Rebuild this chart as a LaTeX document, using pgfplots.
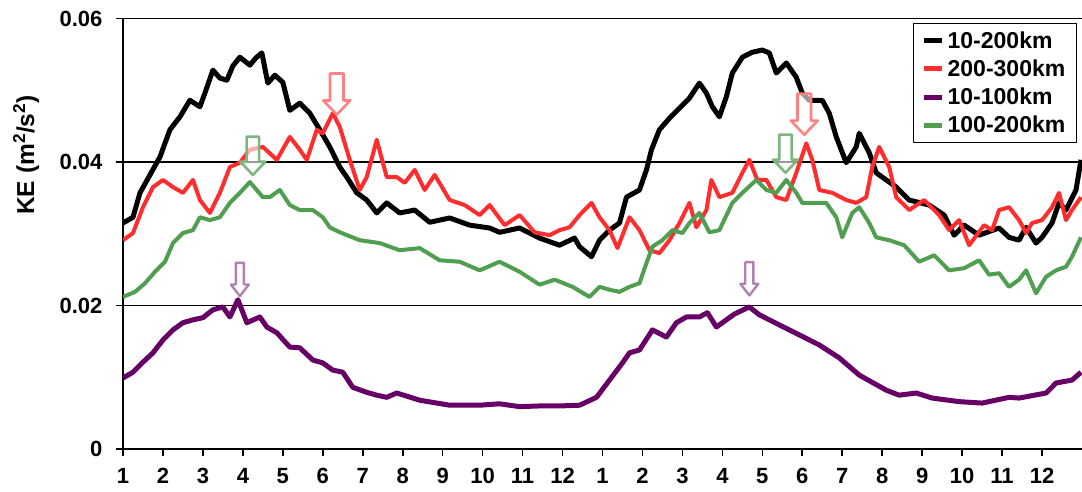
\documentclass[border=0pt]{standalone}
\usepackage{fontspec}
\setmainfont{Liberation Sans}
\usepackage{pgfplots}
\usepackage{pgfplotstable}
\pgfplotsset{compat=1.18}

\definecolor{keblack}{RGB}{0,0,0}
\definecolor{kered}{RGB}{255,45,45}
\definecolor{kepurple}{RGB}{102,0,102}
\definecolor{kegreen}{RGB}{80,158,80}

% hollow block arrows pointing down; the tip sits on the data point
\pgfdeclareplotmark{blockdown}{%
  \pgfpathmoveto{\pgfpoint{0pt}{0pt}}%
  \pgfpathlineto{\pgfpoint{\pgfplotmarksize}{1.05\pgfplotmarksize}}%
  \pgfpathlineto{\pgfpoint{0.5\pgfplotmarksize}{1.05\pgfplotmarksize}}%
  \pgfpathlineto{\pgfpoint{0.5\pgfplotmarksize}{3.05\pgfplotmarksize}}%
  \pgfpathlineto{\pgfpoint{-0.5\pgfplotmarksize}{3.05\pgfplotmarksize}}%
  \pgfpathlineto{\pgfpoint{-0.5\pgfplotmarksize}{1.05\pgfplotmarksize}}%
  \pgfpathlineto{\pgfpoint{-\pgfplotmarksize}{1.05\pgfplotmarksize}}%
  \pgfpathclose
  \pgfusepathqfillstroke}
\pgfdeclareplotmark{blockdownlong}{%
  \pgfpathmoveto{\pgfpoint{0pt}{0pt}}%
  \pgfpathlineto{\pgfpoint{\pgfplotmarksize}{1.3\pgfplotmarksize}}%
  \pgfpathlineto{\pgfpoint{0.45\pgfplotmarksize}{1.3\pgfplotmarksize}}%
  \pgfpathlineto{\pgfpoint{0.45\pgfplotmarksize}{3.7\pgfplotmarksize}}%
  \pgfpathlineto{\pgfpoint{-0.45\pgfplotmarksize}{3.7\pgfplotmarksize}}%
  \pgfpathlineto{\pgfpoint{-0.45\pgfplotmarksize}{1.3\pgfplotmarksize}}%
  \pgfpathlineto{\pgfpoint{-\pgfplotmarksize}{1.3\pgfplotmarksize}}%
  \pgfpathclose
  \pgfusepathqfillstroke}

% month index (0 = first January) and kinetic energy
\pgfplotstableread{
m      ke
0.000  0.0315
0.250  0.0323
0.425  0.0357
0.675  0.0382
0.925  0.0407
1.175  0.0445
1.425  0.0463
1.675  0.0486
1.925  0.0477
2.075  0.0500
2.250  0.0528
2.425  0.0517
2.600  0.0514
2.750  0.0534
2.925  0.0546
3.175  0.0535
3.325  0.0545
3.475  0.0552
3.625  0.0510
3.800  0.0521
4.000  0.0511
4.175  0.0472
4.425  0.0482
4.675  0.0468
4.925  0.0445
5.175  0.0421
5.425  0.0393
5.600  0.0379
5.850  0.0357
6.100  0.0347
6.350  0.0329
6.600  0.0343
6.925  0.0329
7.300  0.0333
7.675  0.0316
8.175  0.0322
8.675  0.0312
9.175  0.0308
9.425  0.0302
9.925  0.0308
10.425 0.0294
10.925 0.0284
11.300 0.0294
11.425 0.0282
11.725 0.0268
11.925 0.0291
12.175 0.0305
12.425 0.0315
12.600 0.0351
12.925 0.0361
13.100 0.0389
13.225 0.0417
13.425 0.0445
13.675 0.0461
13.925 0.0475
14.175 0.0489
14.425 0.0510
14.600 0.0496
14.750 0.0477
14.925 0.0463
15.100 0.0491
15.250 0.0524
15.500 0.0546
15.750 0.0553
16.000 0.0556
16.175 0.0552
16.350 0.0524
16.600 0.0538
16.850 0.0518
17.000 0.0496
17.175 0.0486
17.500 0.0486
17.675 0.0468
17.850 0.0435
18.100 0.0399
18.350 0.0421
18.425 0.0440
18.675 0.0413
18.850 0.0385
19.100 0.0375
19.350 0.0365
19.675 0.0347
20.175 0.0340
20.550 0.0326
20.800 0.0298
21.050 0.0312
21.425 0.0298
21.925 0.0308
22.175 0.0295
22.425 0.0291
22.600 0.0309
22.850 0.0287
23.000 0.0295
23.250 0.0315
23.425 0.0343
23.600 0.0333
23.850 0.0361
23.975 0.0403
}\kebandA

\pgfplotstableread{
m      ke
0.000  0.0291
0.250  0.0301
0.500  0.0337
0.750  0.0365
1.000  0.0375
1.250  0.0365
1.500  0.0357
1.750  0.0375
1.925  0.0347
2.175  0.0329
2.425  0.0357
2.675  0.0393
2.925  0.0399
3.175  0.0417
3.500  0.0421
3.850  0.0403
4.175  0.0435
4.425  0.0417
4.600  0.0403
4.850  0.0445
5.000  0.0440
5.250  0.0468
5.425  0.0449
5.675  0.0403
5.925  0.0361
6.100  0.0379
6.350  0.0431
6.600  0.0379
6.850  0.0379
7.050  0.0371
7.300  0.0389
7.550  0.0361
7.800  0.0382
8.175  0.0347
8.550  0.0340
8.925  0.0326
9.175  0.0340
9.550  0.0312
9.925  0.0326
10.300 0.0302
10.675 0.0298
10.925 0.0305
11.175 0.0309
11.425 0.0326
11.725 0.0343
11.925 0.0323
12.175 0.0305
12.375 0.0280
12.675 0.0323
12.925 0.0305
13.175 0.0277
13.425 0.0273
13.675 0.0291
13.925 0.0315
14.175 0.0343
14.350 0.0309
14.600 0.0333
14.725 0.0375
14.925 0.0351
15.250 0.0357
15.500 0.0385
15.675 0.0403
15.875 0.0375
16.100 0.0375
16.350 0.0351
16.600 0.0347
16.850 0.0385
17.100 0.0426
17.250 0.0403
17.425 0.0361
17.750 0.0357
18.100 0.0347
18.350 0.0343
18.600 0.0351
18.750 0.0393
18.925 0.0421
19.175 0.0393
19.350 0.0351
19.675 0.0333
20.050 0.0347
20.425 0.0326
20.675 0.0305
20.925 0.0319
21.175 0.0284
21.550 0.0312
21.750 0.0305
21.925 0.0333
22.175 0.0337
22.425 0.0319
22.600 0.0301
22.750 0.0315
23.000 0.0319
23.250 0.0337
23.425 0.0357
23.600 0.0319
23.750 0.0333
23.975 0.0351
}\kebandB

\pgfplotstableread{
m      ke
0.000  0.0099
0.250  0.0107
0.500  0.0121
0.750  0.0134
1.000  0.0152
1.250  0.0166
1.500  0.0176
1.750  0.0180
2.000  0.0183
2.250  0.0194
2.500  0.0198
2.675  0.0184
2.875  0.0208
3.100  0.0176
3.425  0.0184
3.600  0.0170
3.850  0.0162
4.175  0.0142
4.425  0.0141
4.750  0.0124
5.000  0.0120
5.250  0.0110
5.500  0.0107
5.750  0.0086
6.100  0.0079
6.350  0.0075
6.600  0.0072
6.850  0.0078
7.425  0.0068
8.175  0.0061
8.925  0.0061
9.425  0.0063
9.925  0.0059
10.425 0.0060
10.925 0.0060
11.425 0.0061
11.850 0.0072
12.175 0.0096
12.500 0.0120
12.675 0.0134
12.925 0.0138
13.250 0.0166
13.600 0.0156
13.850 0.0176
14.100 0.0184
14.425 0.0184
14.625 0.0190
14.850 0.0170
15.300 0.0188
15.675 0.0198
15.925 0.0187
16.425 0.0173
16.925 0.0159
17.425 0.0145
17.925 0.0127
18.425 0.0103
19.100 0.0082
19.425 0.0075
19.850 0.0078
20.250 0.0071
20.925 0.0066
21.500 0.0064
22.175 0.0072
22.425 0.0071
23.100 0.0078
23.350 0.0092
23.750 0.0096
23.975 0.0107
}\kebandC

\pgfplotstableread{
m      ke
0.000  0.0212
0.300  0.0219
0.550  0.0231
0.800  0.0247
1.050  0.0261
1.250  0.0287
1.500  0.0301
1.750  0.0305
1.925  0.0323
2.175  0.0319
2.425  0.0323
2.675  0.0343
2.925  0.0357
3.175  0.0372
3.500  0.0351
3.675  0.0351
3.925  0.0361
4.175  0.0340
4.425  0.0333
4.750  0.0333
5.000  0.0323
5.175  0.0309
5.425  0.0302
5.925  0.0291
6.425  0.0287
6.925  0.0277
7.425  0.0280
7.925  0.0263
8.425  0.0261
8.925  0.0249
9.425  0.0261
9.925  0.0247
10.425 0.0229
10.800 0.0236
11.250 0.0226
11.675 0.0212
11.925 0.0226
12.175 0.0222
12.425 0.0219
12.675 0.0226
12.925 0.0231
13.100 0.0259
13.250 0.0282
13.500 0.0291
13.750 0.0305
14.000 0.0301
14.175 0.0315
14.425 0.0329
14.675 0.0302
14.925 0.0305
15.250 0.0343
15.500 0.0357
15.850 0.0375
16.100 0.0361
16.350 0.0357
16.600 0.0375
16.850 0.0357
17.000 0.0343
17.350 0.0343
17.600 0.0343
17.850 0.0323
18.000 0.0295
18.250 0.0329
18.425 0.0337
18.675 0.0315
18.850 0.0295
19.175 0.0291
19.550 0.0284
19.925 0.0261
20.300 0.0270
20.675 0.0249
21.050 0.0252
21.425 0.0263
21.675 0.0243
21.925 0.0245
22.175 0.0226
22.425 0.0236
22.600 0.0249
22.850 0.0217
23.100 0.0240
23.350 0.0249
23.600 0.0254
23.750 0.0268
23.975 0.0295
}\kebandD

\begin{document}
\begin{tikzpicture}
\begin{axis}[
  at={(0pt,0pt)}, anchor=south west,
  scale only axis,
  width=959pt, height=430.5pt,
  xmin=0, xmax=24, ymin=0, ymax=0.06,
  axis x line*=bottom, axis y line*=left,
  axis line style={line width=1.6pt, black},
  xtick={0,1,...,23},
  xticklabels={1,2,3,4,5,6,7,8,9,10,11,12,1,2,3,4,5,6,7,8,9,10,11,12},
  ytick={0,0.02,0.04,0.06},
  yticklabels={0,0.02,0.04,0.06},
  scaled y ticks=false,
  tick align=outside,
  major tick length=7pt,
  tick style={line width=1.6pt, black},
  ymajorgrids,
  grid style={line width=1.4pt, black},
  ticklabel style={font=\bfseries\fontsize{22}{26}\selectfont, text=black},
  xticklabel style={yshift=-11pt, inner ysep=1pt},
  yticklabel style={xshift=-10pt},
  /pgf/number format/assume math mode=true,
  ylabel={KE (m\textsuperscript{2}/s\textsuperscript{2})},
  ylabel style={at={(axis description cs:-0.101,0.683)}, anchor=center,
    font=\bfseries\fontsize{24.5}{28}\selectfont},
  legend style={at={(rel axis cs:0.9948,0.9895)}, anchor=north east,
    draw=black, line width=1.4pt, fill=white,
    font=\bfseries\fontsize{23}{26}\selectfont,
    inner xsep=8pt, inner ysep=6pt, row sep=6pt,
    nodes={inner xsep=3pt, inner ysep=2pt}},
  legend cell align=left,
  legend image code/.code={\draw[#1, line width=5pt] (0pt,0pt) -- (18pt,0pt);},
  line join=round,
]
\addplot[keblack, line width=5pt] table[x=m, y=ke] {\kebandA};
\addlegendentry{10-200km}
\addplot[kered, line width=4pt] table[x=m, y=ke] {\kebandB};
\addlegendentry{200-300km}
\addplot[kepurple, line width=5pt] table[x=m, y=ke] {\kebandC};
\addlegendentry{10-100km}
\addplot[kegreen, line width=4pt] table[x=m, y=ke] {\kebandD};
\addlegendentry{100-200km}

% peak markers
\addplot[only marks, mark=blockdown, mark size=13.5pt, forget plot,
  mark options={draw=kered!60!white, fill=white, fill opacity=0.6, line width=2.6pt, miter limit=4}]
  coordinates {(5.35,0.0466) (17.05,0.0438)};
\addplot[only marks, mark=blockdown, mark size=12.5pt, forget plot,
  mark options={draw=kegreen!75!white, fill=white, fill opacity=0.6, line width=2.6pt}]
  coordinates {(3.25,0.0382) (16.58,0.0385)};
\addplot[only marks, mark=blockdownlong, mark size=9pt, forget plot,
  mark options={draw=kepurple!50!white, fill=white, fill opacity=0.6, line width=2.4pt}]
  coordinates {(2.925,0.0213) (15.675,0.0214)};
\end{axis}
\pgfresetboundingbox
\useasboundingbox (-123pt,-43pt) rectangle (959pt,449pt);
\end{tikzpicture}
\end{document}
